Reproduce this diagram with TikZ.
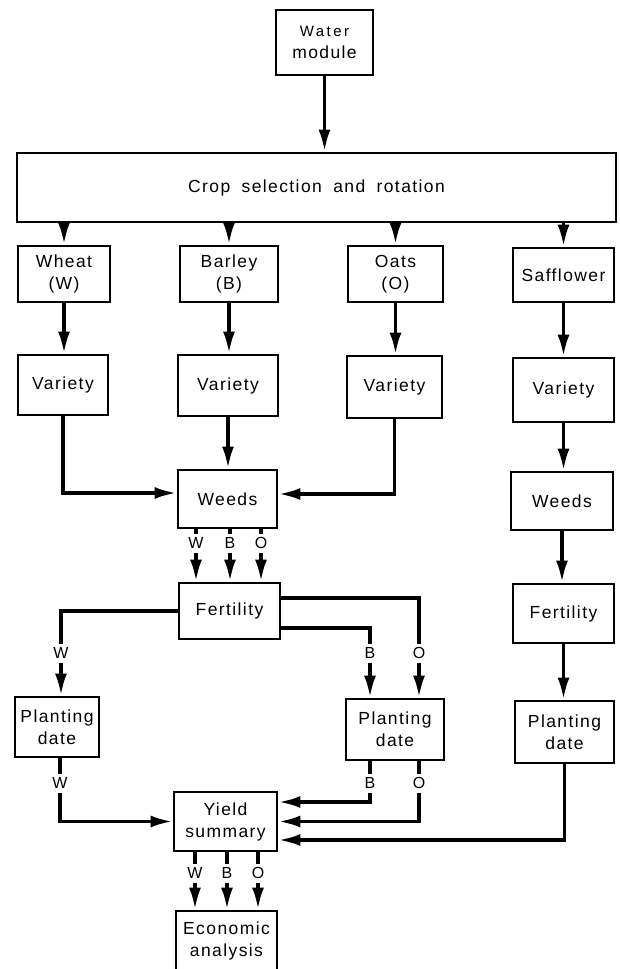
\documentclass[tikz,border=0pt]{standalone}
\usepackage{fontspec}
\setmainfont{Liberation Sans}[LetterSpace=8]
\usetikzlibrary{arrows.meta}

\tikzset{
  modbox/.style={draw, line width=2.8pt, inner sep=0pt, align=center,
    font=\fontsize{17.5}{22}\selectfont},
  flowline/.style={line width=3.5pt},
  flowarrow/.style={line width=3.5pt, -{Latex[length=22pt,width=12pt]}},
  croptag/.style={inner sep=1pt, outer sep=3pt, text height=11pt, text depth=0pt,
    font=\fontsize{16}{18}\selectfont}
}

\begin{document}
\begin{tikzpicture}[x=1pt,y=-1pt]
    \useasboundingbox (0,0) rectangle (619,969);
    % Moduli in alto
    \node[modbox, minimum width=97, minimum height=65] (water) at (324.5,42.5)
        {{\fontsize{15}{18}\selectfont\addfontfeature{LetterSpace=16}Water}\\module};
    \node[modbox, minimum width=599, minimum height=69] (crop) at (316.5,187.5)
        {\spaceskip=0.65em Crop selection and rotation};
    \draw[flowarrow] (water.south) -- (water.south |- crop.north);
    % Colture
    \node[modbox, minimum width=92, minimum height=56] (wheat) at (64,274) {Wheat\\(W)};
    \node[modbox, minimum width=98, minimum height=56] (barley) at (229,274) {Barley\\(B)};
    \node[modbox, minimum width=95, minimum height=56] (oats) at (395.5,274) {Oats\\(O)};
    \node[modbox, minimum width=101, minimum height=54] (saff) at (563.5,275) {Safflower};
    \foreach \c in {wheat,barley,oats,saff}
        \draw[flowarrow] (crop.south -| \c) -- (\c.north);
    % Varieta
    \node[modbox, minimum width=90, minimum height=60] (varW) at (63,385) {Variety};
    \node[modbox, minimum width=100, minimum height=61] (varB) at (228,385.5) {Variety};
    \node[modbox, minimum width=95, minimum height=62] (varO) at (394.5,387) {Variety};
    \node[modbox, minimum width=101, minimum height=64] (varS) at (563.5,390) {Variety};
    \draw[flowarrow] (wheat.south) -- (wheat.south |- varW.north);
    \draw[flowarrow] (barley.south) -- (barley.south |- varB.north);
    \draw[flowarrow] (oats.south) -- (oats.south |- varO.north);
    \draw[flowarrow] (saff.south) -- (saff.south |- varS.north);
    % Infestanti
    \node[modbox, minimum width=99, minimum height=58] (weeds) at (227.5,499) {Weeds};
    \node[modbox, minimum width=102, minimum height=58] (weedsS) at (562,501) {Weeds};
    \draw[flowarrow] (varW.south) |- ([yshift=6]weeds.west);
    \draw[flowarrow] (varB.south) -- (varB.south |- weeds.north);
    \draw[flowarrow] (varO.south) |- ([yshift=5]weeds.east);
    \draw[flowarrow] (varS.south) -- (varS.south |- weedsS.north);
    % Fertilita
    \node[modbox, minimum width=101, minimum height=56] (fert) at (229.5,611) {Fertility};
    \node[modbox, minimum width=101, minimum height=59] (fertS) at (563.5,613.5) {Fertility};
    \node[croptag] (tW1) at (196,543) {W};
    \node[croptag] (tB1) at (230,543) {B};
    \node[croptag] (tO1) at (261,543) {O};
    \foreach \t in {tW1,tB1,tO1} {
        \draw[flowline] (weeds.south -| \t) -- (\t.north);
        \draw[flowarrow] (\t.south) -- (\t.south |- fert.north);
    }
    \draw[flowarrow] (weedsS.south) -- (weedsS.south |- fertS.north);
    % Date di semina
    \node[modbox, minimum width=84, minimum height=60] (plantW) at (57,727) {Planting\\date};
    \node[modbox, minimum width=98, minimum height=61] (plantBO) at (395,729.5) {Planting\\date};
    \node[modbox, minimum width=99, minimum height=62] (plantS) at (564.5,732) {Planting\\date};
    \node[croptag] (tW2) at (61,653) {W};
    \node[croptag] (tB2) at (370,653) {B};
    \node[croptag] (tO2) at (419,653) {O};
    \draw[flowline] (fert.west) -| (tW2.north);
    \draw[flowline] ([yshift=-17]fert.east) -| (tB2.north);
    \draw[flowline] ([yshift=13]fert.east) -| (tO2.north);
    \draw[flowarrow] (tW2.south) -- (tW2.south |- plantW.north);
    \draw[flowarrow] (tB2.south) -- (tB2.south |- plantBO.north);
    \draw[flowarrow] (tO2.south) -- (tO2.south |- plantBO.north);
    \draw[flowarrow] (fertS.south) -- (fertS.south |- plantS.north);
    % Riepilogo rese
    \node[modbox, minimum width=103, minimum height=59] (yield) at (225.5,821.5) {Yield\\summary};
    \node[croptag] (tW3) at (60,783) {W};
    \node[croptag] (tB3) at (370,783) {B};
    \node[croptag] (tO3) at (419,783) {O};
    \draw[flowline] (plantW.south -| tW3) -- (tW3.north);
    \draw[flowline] (plantBO.south -| tB3) -- (tB3.north);
    \draw[flowline] (plantBO.south -| tO3) -- (tO3.north);
    \draw[flowarrow] (tW3.south) |- (yield.west);
    \draw[flowarrow] (tB3.south) |- ([yshift=19.5]yield.east);
    \draw[flowarrow] (tO3.south) |- (yield.east);
    \draw[flowarrow] (plantS.south) |- ([yshift=-18.5]yield.east);
    % Analisi economica
    \node[modbox, minimum width=101, minimum height=60] (econ) at (226.5,941) {Economic\\analysis};
    \node[croptag] (tW4) at (195,873) {W};
    \node[croptag] (tB4) at (227,873) {B};
    \node[croptag] (tO4) at (258,873) {O};
    \foreach \t in {tW4,tB4,tO4} {
        \draw[flowline] (yield.south -| \t) -- (\t.north);
        \draw[flowarrow] (\t.south) -- (\t.south |- econ.north);
    }
\end{tikzpicture}
\end{document}
